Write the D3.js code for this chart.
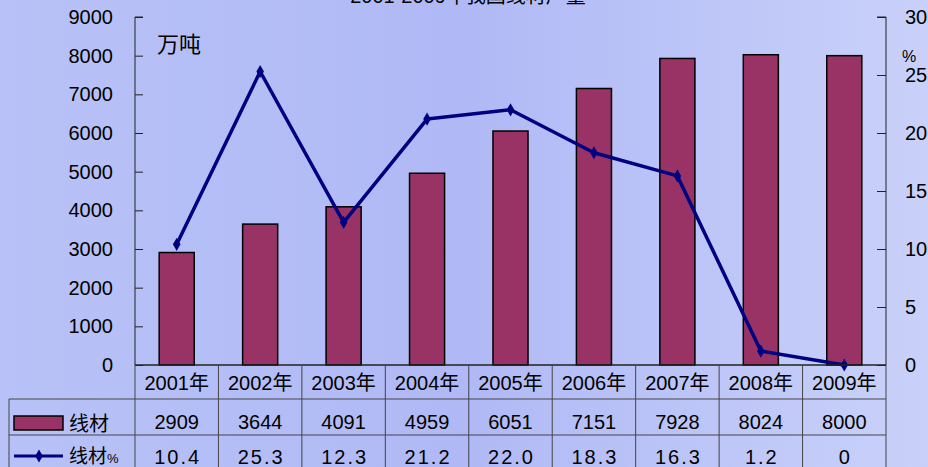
<!DOCTYPE html>
<html lang="zh">
<head>
<meta charset="utf-8">
<title>2001-2009年我国线材产量</title>
<script src="https://cdn.jsdelivr.net/npm/d3@7"></script>
<style>
  html, body { margin: 0; padding: 0; }
  body { width: 928px; height: 467px; overflow: hidden; }
  text { font-family: "Liberation Sans", Arial, "Noto Sans CJK SC", sans-serif; fill: #000; }
</style>
</head>
<body>
<div id="chart"></div>
<script>
// data
const years = ["2001年", "2002年", "2003年", "2004年", "2005年", "2006年", "2007年", "2008年", "2009年"];
const output = [2909, 3644, 4091, 4959, 6051, 7151, 7928, 8024, 8000];
const growth = [10.4, 25.3, 12.3, 21.2, 22.0, 18.3, 16.3, 1.2, 0];
const growthLabels = ["10.4", "25.3", "12.3", "21.2", "22.0", "18.3", "16.3", "1.2", "0"];
const leftTicks = [0, 1000, 2000, 3000, 4000, 5000, 6000, 7000, 8000, 9000];
const rightTicks = [0, 5, 10, 15, 20, 25, 30];

const W = 928, H = 467;
const plot = { left: 135, right: 886, top: 17, bottom: 365 };

const svg = d3.select("#chart").append("svg")
  .attr("width", W).attr("height", H);

// background
const grad = svg.append("defs").append("linearGradient")
  .attr("id", "bg").attr("x1", "0").attr("x2", "1").attr("y1", "0").attr("y2", "0");
grad.append("stop").attr("offset", "0").attr("stop-color", "#b8c2f7");
grad.append("stop").attr("offset", "0.5").attr("stop-color", "#b0b9f5");
grad.append("stop").attr("offset", "1").attr("stop-color", "#c9d1fa");
svg.append("rect").attr("width", W).attr("height", H).attr("fill", "url(#bg)");

const x = d3.scaleBand().domain(years).range([plot.left, plot.right]).padding(0);
const yL = d3.scaleLinear().domain([0, 9000]).range([plot.bottom, plot.top]);
const yR = d3.scaleLinear().domain([0, 30]).range([plot.bottom, plot.top]);

// title (cut at the top edge, as in the original)
svg.append("text")
  .attr("x", 468).attr("y", 3)
  .attr("text-anchor", "middle")
  .style("font-size", "20px")
  .text("2001-2009年我国线材产量");

// left axis
const gL = svg.append("g")
  .attr("transform", `translate(${plot.left},0)`)
  .call(d3.axisRight(yL).tickValues(leftTicks).tickSize(8).tickFormat(""));
gL.select(".domain").attr("stroke", "#222").attr("d", `M8,${plot.top}H0V${plot.bottom}`);
gL.selectAll(".tick line").attr("stroke", "#222");
svg.append("g").selectAll("text").data(leftTicks).join("text")
  .attr("x", 113).attr("y", d => yL(d) + 7)
  .attr("text-anchor", "end")
  .style("font-size", "20px")
  .text(d => d);

// right axis
const gR = svg.append("g")
  .attr("transform", `translate(${plot.right},0)`)
  .call(d3.axisLeft(yR).tickValues(rightTicks).tickSize(9).tickFormat(""));
gR.select(".domain").attr("stroke", "#222").attr("d", `M-9,${plot.top}H0V${plot.bottom}`);
gR.selectAll(".tick line").attr("stroke", "#222");
svg.append("g").selectAll("text").data(rightTicks).join("text")
  .attr("x", 905).attr("y", d => yR(d) + 7)
  .attr("text-anchor", "start")
  .style("font-size", "20px")
  .text(d => d);

// unit labels
svg.append("text").attr("x", 157).attr("y", 52)
  .style("font-size", "22px").text("万吨");
svg.append("text").attr("x", 902).attr("y", 62)
  .style("font-size", "16px").text("%");

// bars
const barW = x.bandwidth() * 0.42;
svg.append("g").selectAll("rect").data(output).join("rect")
  .attr("x", (d, i) => x(years[i]) + (x.bandwidth() - barW) / 2)
  .attr("y", d => yL(d))
  .attr("width", barW)
  .attr("height", d => plot.bottom - yL(d))
  .attr("fill", "#993366")
  .attr("stroke", "#000")
  .attr("stroke-width", 1.5);

// line
const cx = i => x(years[i]) + x.bandwidth() / 2;
const line = d3.line().x((d, i) => cx(i)).y(d => yR(d));
svg.append("path").datum(growth)
  .attr("d", line)
  .attr("fill", "none")
  .attr("stroke", "#000080")
  .attr("stroke-width", 3.5)
  .attr("stroke-linejoin", "round");
const diamond = d3.symbol().type(d3.symbolDiamond).size(50);
svg.append("g").selectAll("path").data(growth).join("path")
  .attr("d", diamond)
  .attr("transform", (d, i) => `translate(${cx(i)},${yR(d)})`)
  .attr("fill", "#000080");

// x axis line
svg.append("line")
  .attr("x1", plot.left).attr("x2", plot.right)
  .attr("y1", plot.bottom).attr("y2", plot.bottom)
  .attr("stroke", "#222").attr("stroke-width", 1.5);

// data table
const rowY = [365, 399, 435, 467];
const tbl = svg.append("g").attr("stroke", "#444").attr("stroke-width", 1);
tbl.selectAll("line.v").data(years.concat(["end"])).join("line")
  .attr("x1", (d, i) => i < years.length ? x(d) : plot.right)
  .attr("x2", (d, i) => i < years.length ? x(d) : plot.right)
  .attr("y1", rowY[0]).attr("y2", H);
tbl.append("line").attr("x1", 9).attr("x2", plot.right).attr("y1", rowY[1]).attr("y2", rowY[1]);
tbl.append("line").attr("x1", 9).attr("x2", plot.right).attr("y1", rowY[2]).attr("y2", rowY[2]);
tbl.append("line").attr("x1", 9).attr("x2", 9).attr("y1", rowY[1]).attr("y2", H);

svg.append("g").selectAll("text").data(years).join("text")
  .attr("x", d => x(d) + x.bandwidth() / 2).attr("y", 390)
  .attr("text-anchor", "middle").style("font-size", "20px")
  .text(d => d);
svg.append("g").selectAll("text").data(output).join("text")
  .attr("x", (d, i) => cx(i)).attr("y", 429)
  .attr("text-anchor", "middle").style("font-size", "20px")
  .text(d => d);
svg.append("g").selectAll("text").data(growthLabels).join("text")
  .attr("x", (d, i) => cx(i) + 1).attr("y", 464)
  .attr("text-anchor", "middle").style("font-size", "20px")
  .style("letter-spacing", "2px")
  .text(d => d);

// legend keys in the table
svg.append("rect").attr("x", 14).attr("y", 416).attr("width", 49).attr("height", 14)
  .attr("fill", "#993366").attr("stroke", "#000").attr("stroke-width", 1.5);
svg.append("text").attr("x", 69).attr("y", 431).style("font-size", "20px").text("线材");
svg.append("line").attr("x1", 14).attr("x2", 63).attr("y1", 456).attr("y2", 456)
  .attr("stroke", "#000080").attr("stroke-width", 3);
svg.append("path").attr("d", diamond).attr("transform", "translate(39,456)").attr("fill", "#000080");
const lt = svg.append("text").attr("x", 69).attr("y", 463).style("font-size", "19px");
lt.append("tspan").text("线材");
lt.append("tspan").style("font-size", "13px").text("%");
</script>
</body>
</html>
